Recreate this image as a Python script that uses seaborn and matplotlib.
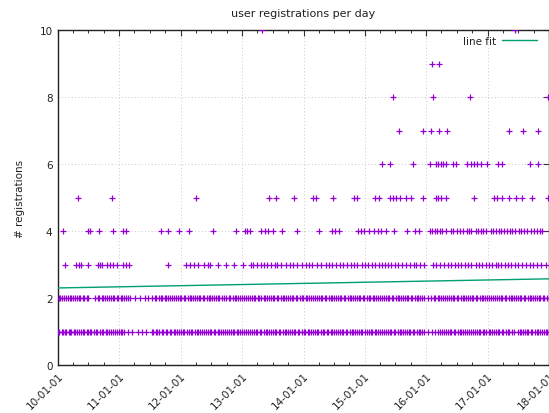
import matplotlib
matplotlib.use("Agg")
import matplotlib.pyplot as plt
import matplotlib.dates as mdates
import numpy as np
import pandas as pd
import seaborn as sns

# ---- data: days (since START) on which the daily registration count was n ----
START = "2010-01-01"
END = "2018-01-01"

days_1 = [0, 8, 21, 27, 40, 49, 63, 70, 79, 94, 101, 115, 122, 136, 148, 155, 171, 180, 192, 199,
          214, 226, 233, 248, 259, 270, 284, 291, 305, 318, 326, 339, 350, 361, 374, 383,
          393, 415, 442, 478, 502, 522,
          560, 568, 583, 590, 604, 619, 626, 641, 649, 664, 672, 688, 695, 709, 722, 730, 745, 752,
          768, 777, 790, 798, 813, 825, 832, 847, 856, 870, 879, 893, 905, 912, 928, 936, 950, 961, 968,
          983, 991, 1006, 1015, 1029, 1040, 1047, 1063, 1071, 1086, 1094, 1109, 1121, 1128, 1143, 1152,
          1166, 1177, 1185, 1200, 1208, 1223, 1235, 1242, 1257, 1266, 1280, 1291, 1299, 1314, 1322, 1337,
          1349, 1356, 1371, 1380, 1394, 1405, 1413, 1428, 1436, 1451, 1463, 1470, 1485, 1494, 1508, 1519,
          1527, 1542, 1550, 1565, 1577, 1584, 1599, 1608, 1622, 1633, 1641, 1656, 1664, 1679, 1691, 1698,
          1713, 1722, 1736, 1747, 1755, 1770, 1778, 1793, 1805, 1812, 1827, 1836, 1850, 1861, 1869, 1884,
          1892, 1907, 1919, 1926, 1941, 1950, 1964, 1975, 1983, 1998, 2006, 2021, 2033, 2040, 2055, 2064,
          2078, 2089, 2097, 2112, 2120, 2135, 2147, 2154, 2169, 2180,
          2200, 2225, 2245, 2262,
          2276, 2284, 2299, 2307, 2322, 2334, 2341, 2356, 2365, 2379, 2390, 2398, 2413, 2421, 2436, 2448,
          2455, 2470, 2479, 2493, 2504, 2512, 2527, 2535, 2550, 2562, 2569, 2584, 2593, 2607, 2618, 2626,
          2641, 2649, 2664, 2676, 2685,
          2700, 2716, 2735, 2748,
          2757, 2765, 2780, 2792, 2799, 2814, 2823, 2837, 2848, 2856, 2871, 2879, 2894, 2906, 2913, 2921]

days_2 = [3, 14, 22, 37, 45, 58, 69, 76, 91, 99, 113, 124, 131, 146, 155, 170, 178,
          222, 236, 244, 259, 270, 277, 292, 301, 315, 327, 334, 349, 358, 372, 383, 391, 406, 416, 428,
          458, 488, 518, 536,
          562, 577, 585, 600, 612, 619, 634, 643, 657, 669, 676, 691, 700, 714, 726, 733, 748, 757, 771,
          783, 790, 805, 814, 828, 840, 847, 862, 871, 885, 897, 904, 919, 928, 942, 954, 961,
          976, 985, 1000, 1017, 1025, 1040, 1052, 1059, 1074, 1083, 1097, 1109, 1116, 1131, 1140, 1154,
          1166, 1173, 1188, 1197, 1211, 1223, 1230, 1245, 1254, 1268, 1280, 1287, 1302, 1311, 1325, 1337,
          1344, 1359, 1368, 1382, 1394, 1401, 1416, 1425, 1439, 1451, 1458, 1473, 1482, 1496, 1508, 1515,
          1530, 1539, 1553, 1565, 1572, 1587, 1596, 1610, 1622, 1629, 1644, 1653, 1667, 1679, 1686, 1701,
          1710, 1724, 1736, 1743, 1758, 1767, 1781, 1793, 1800, 1815, 1824, 1838, 1850, 1857, 1872, 1881,
          1895, 1907, 1914, 1929, 1938, 1952, 1964, 1971, 1986, 1995, 2009, 2021, 2028, 2043, 2052, 2066,
          2078, 2085, 2100, 2109, 2123, 2135, 2142, 2157, 2166, 2180,
          2203,
          2222, 2236, 2244, 2259, 2268, 2282, 2294, 2301, 2316, 2325, 2339, 2351, 2358, 2373, 2382, 2396,
          2408, 2415, 2430, 2439, 2453, 2465, 2472, 2487, 2496, 2510, 2522, 2529, 2544, 2553, 2567, 2579,
          2586, 2601, 2610, 2624, 2636, 2643, 2658, 2667, 2681, 2693, 2700, 2715, 2724, 2738, 2750, 2757,
          2772, 2781, 2795, 2807, 2814, 2829, 2838, 2852, 2864, 2871, 2886, 2895, 2909, 2920]

days_3 = [42, 107, 125, 137, 179, 238, 250, 262, 292, 310, 327, 351, 387, 405, 423, 655,
          762, 786, 810, 833, 869, 893, 905, 952,
          1000, 1048, 1101, 1149, 1161, 1185, 1208, 1226, 1244, 1268, 1292, 1304, 1328, 1357, 1381, 1399,
          1423, 1453, 1476, 1494, 1512, 1542, 1566, 1595, 1613, 1631, 1655, 1679, 1697, 1720, 1744, 1762,
          1780, 1810, 1828, 1845, 1869, 1887, 1911, 1929,
          1947, 1964, 1982, 2006, 2024, 2048, 2072, 2095, 2119, 2131, 2155, 2179,
          2232, 2250, 2274, 2298, 2322, 2340, 2363, 2381, 2399, 2423, 2441, 2459, 2488, 2506, 2524, 2548,
          2566, 2584, 2607, 2619, 2637, 2661, 2679, 2697, 2721, 2738, 2762, 2786, 2810, 2828, 2852, 2875,
          2905]

days_4 = [30, 179, 190, 244, 327, 387, 405, 613, 655, 720, 780, 923, 1060, 1113, 1125, 1143,
          1208, 1232, 1250, 1280, 1333, 1423, 1554, 1631, 1649, 1673, 1786, 1804, 1822, 1851, 1881,
          1905, 1923, 1953, 2000, 2078, 2125, 2149,
          2215, 2226, 2244, 2256, 2274, 2286, 2310, 2340, 2351, 2375, 2393, 2411, 2435, 2447, 2459,
          2488, 2500, 2518, 2530, 2548, 2578, 2590, 2607, 2625, 2637, 2655, 2673, 2691, 2703, 2721,
          2744, 2756, 2774, 2792, 2816, 2834, 2852, 2869, 2881]

days_5 = [119, 321, 822, 1256, 1298, 1405, 1518, 1536, 1637, 1762, 1780, 1887, 1911, 1976, 1994,
          2012, 2036, 2072, 2101, 2173, 2250, 2262, 2280, 2310, 2476, 2595, 2613, 2643, 2685, 2726,
          2762, 2822, 2917]

days_6 = [1929, 1976, 2113, 2215, 2250, 2262, 2280, 2292, 2310, 2351, 2369, 2435, 2459, 2476,
          2494, 2518, 2554, 2619, 2643, 2810, 2857]

days_7 = [2030, 2173, 2220, 2268, 2316, 2685, 2768, 2857]

days_8 = [1994, 2232, 2453, 2917]

days_9 = [2226, 2268]

days_10 = [1214, 2720]

# linear fit of registrations against time (years since START)
FIT_INTERCEPT = 2.30
FIT_SLOPE_PER_YEAR = 0.034

Y_TICKS = [0, 2, 4, 6, 8, 10]

# ---- assemble a long table ----
per_count = {1: days_1, 2: days_2, 3: days_3, 4: days_4, 5: days_5,
             6: days_6, 7: days_7, 8: days_8, 9: days_9, 10: days_10}
start = pd.Timestamp(START)
rows = [(start + pd.Timedelta(days=d), n) for n, ds in per_count.items() for d in ds]
df = pd.DataFrame(rows, columns=["date", "registrations"])

fit_x = pd.to_datetime([START, END])
fit_years = (fit_x - start).days / 365.25
fit_df = pd.DataFrame({"date": fit_x,
                       "registrations": FIT_INTERCEPT + FIT_SLOPE_PER_YEAR * np.asarray(fit_years)})

# ---- style ----
sns.set_style("white")
plt.rcParams["font.family"] = ["DejaVu Sans"]
FS = 7.5
TXT = "#222222"

fig = plt.figure(figsize=(5.49, 4.14), dpi=100)
ax = fig.add_axes([58 / 549, 48 / 414, 491 / 549, 335 / 414])

sns.scatterplot(data=df, x="date", y="registrations", marker="+", color="#9400d3",
                s=22, linewidth=0.9, ax=ax, legend=False, zorder=3)
sns.lineplot(data=fit_df, x="date", y="registrations", color="#009e73", linewidth=1.0,
             ax=ax, label="line fit", zorder=4)

ax.set_xlim(pd.Timestamp(START), pd.Timestamp(END))
ax.set_ylim(0, 10)
ax.set_yticks(Y_TICKS)

ax.xaxis.set_major_locator(mdates.YearLocator())
ax.xaxis.set_major_formatter(mdates.DateFormatter("%y-%m-%d"))
ax.xaxis.set_minor_locator(mdates.MonthLocator(bymonth=[4, 7, 10]))

ax.tick_params(axis="both", which="major", direction="in", length=4, width=0.8,
               top=True, right=True, labelsize=FS, labelcolor=TXT, color="#333333", pad=4)
ax.tick_params(axis="x", which="minor", direction="in", length=2.2, width=0.7,
               top=True, bottom=True, color="#333333")
for lab in ax.get_xticklabels():
    lab.set_rotation(45)
    lab.set_ha("right")
    lab.set_va("top")
    lab.set_rotation_mode("anchor")

ax.grid(True, which="major", color="#b8b8b8", linestyle=(0, (1, 3)), linewidth=0.6)
ax.set_axisbelow(True)
for sp in ax.spines.values():
    sp.set_color("#222222")
    sp.set_linewidth(1.0)

ax.set_xlabel("")
ax.set_ylabel("# registrations", fontsize=FS, color=TXT, labelpad=10)
ax.set_title("user registrations per day", fontsize=8, color=TXT, pad=10)

leg = ax.legend(loc="upper right", bbox_to_anchor=((537 - 58) / 491, 1 - 6 / 335),
                frameon=False, markerfirst=False, fontsize=FS, handlelength=3.4,
                handletextpad=0.5, borderpad=0, borderaxespad=0)
for t in leg.get_texts():
    t.set_color(TXT)

fig.savefig("out.png", dpi=100)
